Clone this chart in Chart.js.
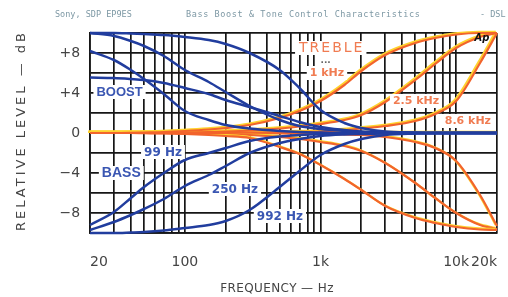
<!DOCTYPE html>
<html>
<head>
<meta charset="utf-8">
<script src="https://cdn.jsdelivr.net/npm/chart.js@4.4.1/dist/chart.umd.min.js"></script>
<style>
  html, body { margin: 0; padding: 0; background: #fff; }
  canvas { display: block; }
</style>
</head>
<body>
<canvas id="grafico" width="508" height="297"></canvas>
<script>
// Frecuencias donde se leyeron los valores (Hz)
const frecuencias = [20, 30, 40, 50, 70, 100, 150, 200, 300, 500, 700, 1000, 1500, 2000, 3000, 5000, 7000, 10000, 15000, 20000];

// Graves (dB)
const bass992Boost = [10, 10, 9.95, 9.9, 9.8, 9.6, 9.3, 8.9, 8.0, 6.3, 4.5, 2.3, 1.0, 0.5, 0.15, 0.05, 0, 0, 0, 0];
const bass250Boost = [10, 9.7, 9.2, 8.7, 7.7, 6.3, 5.1, 4.1, 2.7, 1.3, 0.7, 0.4, 0.2, 0.1, 0, 0, 0, 0, 0, 0];
const bass99Boost = [8.2, 7.3, 6.3, 5.4, 3.9, 2.2, 1.3, 0.8, 0.45, 0.2, 0.1, 0.05, 0, 0, 0, 0, 0, 0, 0, 0];
const bassBoostShelf = [5.55, 5.5, 5.4, 5.3, 5.0, 4.5, 3.9, 3.3, 2.6, 1.7, 1.1, 0.6, 0.3, 0.15, 0.05, 0, 0, 0, 0, 0];
const bass99Cut = [-9.2, -7.9, -6.5, -5.4, -4.0, -2.7, -2.0, -1.5, -0.8, -0.35, -0.2, -0.1, -0.05, 0, 0, 0, 0, 0, 0, 0];
const bass250Cut = [-9.7, -8.9, -8.2, -7.6, -6.6, -5.3, -4.2, -3.3, -2.0, -1.0, -0.6, -0.3, -0.15, -0.1, -0.05, 0, 0, 0, 0, 0];
const bass992Cut = [-10, -10, -9.95, -9.9, -9.75, -9.5, -9.2, -8.8, -7.7, -5.4, -3.8, -2.2, -1.1, -0.6, -0.2, -0.05, 0, 0, 0, 0];

// Agudos (dB)
const treble1kBoost = [0, 0, 0.02, 0.05, 0.1, 0.2, 0.35, 0.5, 0.8, 1.5, 2.2, 3.2, 4.8, 6.2, 7.8, 9.0, 9.5, 9.85, 10, 10];
const treble25kBoost = [0, 0, 0, 0, 0.02, 0.05, 0.1, 0.15, 0.25, 0.45, 0.65, 0.9, 1.3, 1.8, 3.1, 5.3, 6.9, 8.5, 9.6, 10];
const treble86kBoost = [0, 0, 0, 0, 0, 0, 0, 0.02, 0.04, 0.07, 0.1, 0.15, 0.3, 0.45, 0.7, 1.2, 1.9, 3.2, 7.0, 10];
const treble1kCut = [0, 0, 0, -0.02, -0.05, -0.1, -0.2, -0.3, -0.5, -1.4, -2.1, -3.2, -4.6, -5.7, -7.3, -8.5, -9.0, -9.4, -9.65, -9.7];
const treble25kCut = [0, 0, 0, 0, -0.02, -0.05, -0.08, -0.1, -0.2, -0.4, -0.6, -0.9, -1.3, -1.8, -3.0, -5.0, -6.5, -8.0, -9.2, -9.6];
const treble86kCut = [0, 0, 0, 0, 0, 0, 0, 0, -0.02, -0.04, -0.07, -0.1, -0.15, -0.2, -0.4, -0.9, -1.5, -2.8, -6.2, -9.3];
const trebleFlat = [0, 0, 0, 0, 0, 0, 0, 0, 0, 0, 0, 0, 0, 0, 0, 0, 0, 0, 0, 0];

// Lineas de la cuadricula y etiquetas de los ejes
const lineasFrecuencia = [20, 30, 40, 50, 60, 70, 80, 90, 100, 200, 300, 400, 500, 600, 700, 800, 900,
  1000, 2000, 3000, 4000, 5000, 6000, 7000, 8000, 9000, 10000, 20000];
const valoresEtiquetaX = [20, 100, 1000, 10000, 20000];
const textosEtiquetaX = ['20', '100', '1k', '10k', '20k'];
const valoresEtiquetaY = [8, 4, 0, -4, -8];
const textosEtiquetaY = ['+8', '+4', '0', '\u22124', '\u22128'];

const azul = '#213d9e';
const azulTexto = '#3a56b2';
const naranja = '#f2642c';
const naranjaTexto = '#f07c52';
const amarillo = '#ffd22e';
const gris = '#444';
const rejilla = '#161616';

function puntos(valores) {
  return frecuencias.map((f, i) => ({ x: f, y: valores[i] }));
}

function curva(valores, color, halo) {
  return {
    data: puntos(valores),
    borderColor: color,
    borderWidth: halo ? 2.2 : 2.5,
    halo: halo || null,
    pointRadius: 0,
    fill: false,
    clip: false,
    cubicInterpolationMode: 'monotone'
  };
}

// Notas dentro del grafico (en coordenadas de datos)
const notas = [
  { texto: 'BOOST', f: 33, db: 4.1, color: azulTexto, fuente: 'bold 13px "Liberation Sans"', fondo: true },
  { texto: 'BASS', f: 34, db: -4.0, color: azulTexto, fuente: 'bold 14px "Liberation Sans"', fondo: true },
  { texto: '99 Hz', f: 69, db: -1.9, color: azulTexto, fuente: 'bold 12px "DejaVu Sans"', fondo: true },
  { texto: '250 Hz', f: 234, db: -5.6, color: azulTexto, fuente: 'bold 12px "DejaVu Sans"', fondo: true },
  { texto: '992 Hz', f: 502, db: -8.3, color: azulTexto, fuente: 'bold 12px "DejaVu Sans"', fondo: true },
  { texto: 'TREBLE', f: 1190, db: 8.5, color: naranjaTexto, fuente: '14px "DejaVu Sans"', fondo: true, espacio: 2 },
  { texto: '...', f: 1090, db: 7.3, color: '#666', fuente: 'bold 9px "DejaVu Sans"', fondo: true },
  { texto: '1 kHz', f: 1116, db: 6.0, color: naranjaTexto, fuente: 'bold 11px "DejaVu Sans"', fondo: true },
  { texto: '2.5 kHz', f: 5060, db: 3.2, color: naranjaTexto, fuente: 'bold 11px "DejaVu Sans"', fondo: true },
  { texto: '8.6 kHz', f: 12200, db: 1.2, color: naranjaTexto, fuente: 'bold 11px "DejaVu Sans"', fondo: true },
  { texto: 'Ap', f: 15500, db: 9.5, color: '#111', fuente: 'italic bold 10px "DejaVu Sans"', fondo: false }
];

const pluginTextos = {
  id: 'textos',
  beforeDatasetDraw(chart, args) {
    const ds = chart.data.datasets[args.index];
    if (ds.halo) {
      const ctx = chart.ctx;
      ctx.save();
      ctx.shadowColor = ds.halo;
      ctx.shadowOffsetX = -1.4;
      ctx.shadowOffsetY = -1.1;
      ctx.shadowBlur = 0.6;
    }
  },
  afterDatasetDraw(chart, args) {
    if (chart.data.datasets[args.index].halo) chart.ctx.restore();
  },
  afterDatasetsDraw(chart) {
    const ctx = chart.ctx;
    const ex = chart.scales.x, ey = chart.scales.y;
    ctx.save();
    ctx.textAlign = 'center';
    ctx.textBaseline = 'middle';
    notas.forEach(n => {
      const x = ex.getPixelForValue(n.f);
      const y = ey.getPixelForValue(n.db);
      ctx.font = n.fuente;
      ctx.letterSpacing = (n.espacio || 0) + 'px';
      const w = ctx.measureText(n.texto).width;
      if (n.fondo) {
        ctx.fillStyle = '#fff';
        ctx.fillRect(x - w / 2 - 3, y - 7, w + 6, 14);
      }
      ctx.fillStyle = n.color;
      ctx.fillText(n.texto, x + (n.espacio || 0) / 2, y + 0.5);
    });
    ctx.letterSpacing = '0px';
    ctx.restore();
  },
  afterDraw(chart) {
    const ctx = chart.ctx;
    ctx.save();
    // Encabezado
    ctx.font = '8.5px "DejaVu Sans Mono"';
    ctx.fillStyle = '#7d98a4';
    ctx.textBaseline = 'middle';
    ctx.textAlign = 'left';
    ctx.fillText('Sony, SDP EP9ES', 55, 15);
    ctx.letterSpacing = '0.6px';
    ctx.fillText('Bass Boost & Tone Control Characteristics', 186, 15);
    ctx.letterSpacing = '0px';
    ctx.fillText('- DSL', 480, 15);
    // Titulos de los ejes
    ctx.fillStyle = gris;
    ctx.textAlign = 'center';
    ctx.font = '13px "DejaVu Sans"';
    ctx.letterSpacing = '3px';
    ctx.translate(22, 132);
    ctx.rotate(-Math.PI / 2);
    ctx.fillText('RELATIVE LEVEL \u2014 dB', 1.5, 0);
    ctx.setTransform(1, 0, 0, 1, 0, 0);
    ctx.font = '12px "DejaVu Sans"';
    ctx.letterSpacing = '0.4px';
    ctx.fillText('FREQUENCY \u2014 Hz', 277, 289);
    ctx.letterSpacing = '0px';
    ctx.restore();
  }
};

const ctx = document.getElementById('grafico').getContext('2d');
const myChart = new Chart(ctx, {
  type: 'line',
  data: {
    datasets: [
      // los graves van primero para quedar encima
      curva(bass992Boost, azul),
      curva(bass250Boost, azul),
      curva(bass99Boost, azul),
      curva(bassBoostShelf, azul),
      curva(bass99Cut, azul),
      curva(bass250Cut, azul),
      curva(bass992Cut, azul),
      curva(treble1kBoost, naranja, amarillo),
      curva(treble25kBoost, naranja, amarillo),
      curva(treble86kBoost, naranja, amarillo),
      curva(treble1kCut, naranja, amarillo),
      curva(treble25kCut, naranja, amarillo),
      curva(treble86kCut, naranja, amarillo),
      curva(trebleFlat, '#ec3424', amarillo)
    ]
  },
  options: {
    responsive: false,
    animation: false,
    devicePixelRatio: 1,
    layout: { padding: { top: 33, right: 11, left: 49.4, bottom: 0 } },
    plugins: { legend: { display: false }, tooltip: { enabled: false } },
    scales: {
      x: {
        type: 'logarithmic',
        min: 20,
        max: 20000,
        afterBuildTicks: (eje) => { eje.ticks = lineasFrecuencia.map(v => ({ value: v })); },
        afterFit: (eje) => { eje.height = 64; eje.paddingLeft = 0; eje.paddingRight = 0; },
        grid: { color: rejilla, lineWidth: 1.7, drawTicks: false },
        border: { color: rejilla, width: 1.7 },
        ticks: {
          autoSkip: false,
          maxRotation: 0,
          align: 'inner',
          padding: 21,
          color: gris,
          font: { family: 'DejaVu Sans', size: 14 },
          callback: (v) => {
            const i = valoresEtiquetaX.indexOf(v);
            return i >= 0 ? textosEtiquetaX[i] : '';
          }
        }
      },
      y: {
        min: -10,
        max: 10,
        afterFit: (eje) => { eje.paddingTop = 0; eje.paddingBottom = 0; },
        grid: { color: rejilla, lineWidth: 1.7, drawTicks: false },
        border: { color: rejilla, width: 1.7 },
        ticks: {
          stepSize: 2,
          padding: 10,
          color: gris,
          font: { family: 'DejaVu Sans', size: 14 },
          callback: (v) => {
            const i = valoresEtiquetaY.indexOf(v);
            return i >= 0 ? textosEtiquetaY[i] : '';
          }
        }
      }
    }
  },
  plugins: [pluginTextos]
});
</script>
</body>
</html>
